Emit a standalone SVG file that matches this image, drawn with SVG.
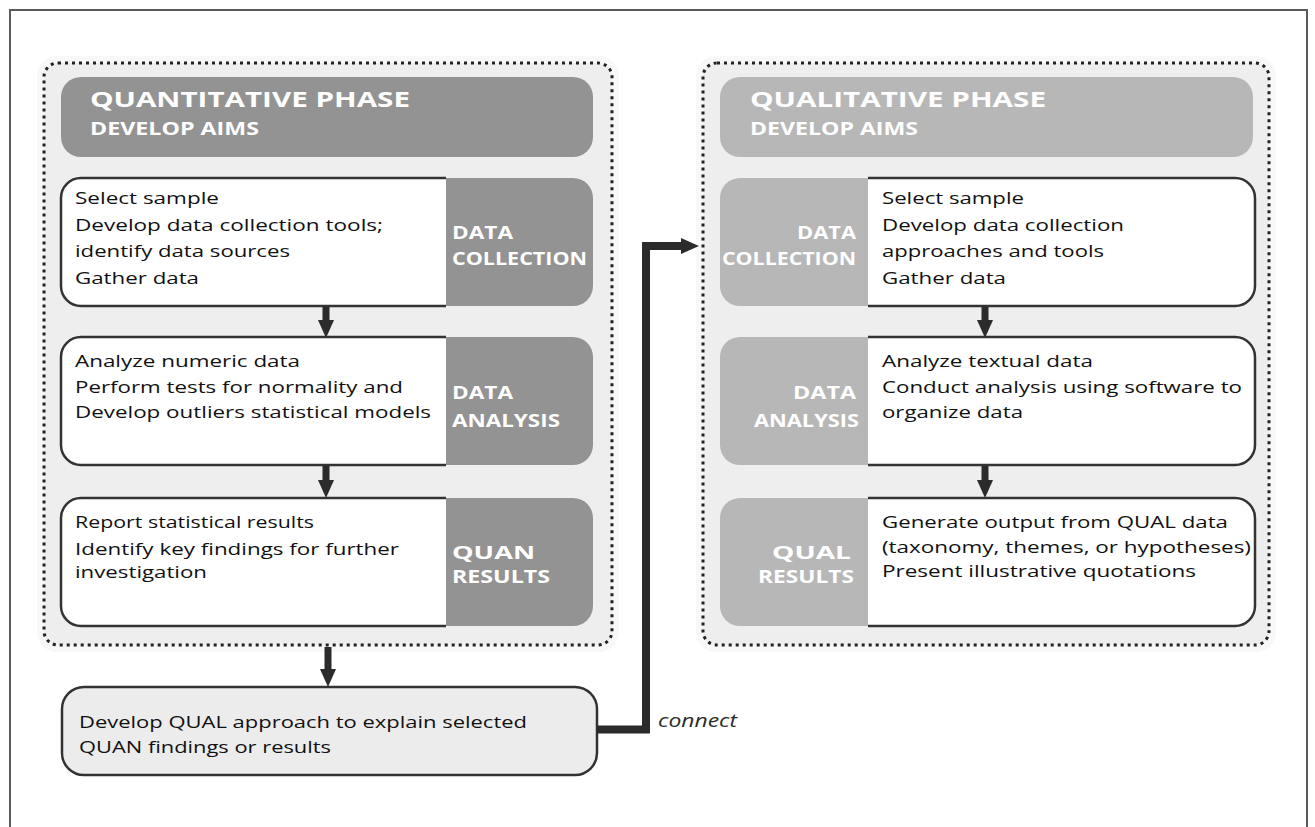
<svg xmlns="http://www.w3.org/2000/svg" width="1315" height="827" viewBox="0 0 1315 827">
<defs>
<style>
.frame{fill:#fff;stroke:#5a5a5a;stroke-width:2}
.halo{fill:#f8f8f8}
.cont{fill:#eeeeee;stroke:#222;stroke-width:3;stroke-dasharray:3 4}
.hdrL{fill:#939393}
.hdrR{fill:#b7b7b7}
.white{fill:#fff;stroke:#333;stroke-width:2.5}
.ht{font-family:"Open Sans","Liberation Sans",sans-serif;font-weight:bold;fill:#fff}
.lab{font-family:"Open Sans","Liberation Sans",sans-serif;font-weight:bold;fill:#fff;font-size:17px}
.tx{font-family:"Open Sans","Liberation Sans",sans-serif;fill:#111;font-size:17px;font-weight:500}
.bot{fill:#ececec;stroke:#333;stroke-width:2.5}
.conn{fill:none;stroke:#2b2b2b;stroke-width:8;stroke-linejoin:miter}
.stem{fill:none;stroke:#2b2b2b;stroke-width:7}
.it{font-family:"Open Sans","Liberation Sans",sans-serif;font-style:italic;fill:#2b2b2b;font-size:19px}
</style>
<marker id="ah" markerUnits="userSpaceOnUse" viewBox="0 0 18 16" markerWidth="18" markerHeight="16" refX="0" refY="8" orient="auto">
<path d="M0,0 L18,8 L0,16 Z" fill="#2b2b2b"/>
</marker>
</defs>

<rect class="frame" x="10" y="10" width="1297" height="830"/>

<g id="quan-phase">
<rect class="halo" x="37" y="56" width="582" height="596" rx="20"/>
<rect class="cont" x="44" y="63" width="568" height="582" rx="14"/>
</g>
<g id="qual-phase">
<rect class="halo" x="696" y="56" width="580" height="596" rx="20"/>
<rect class="cont" x="703" y="63" width="566" height="582" rx="14"/>
</g>

<g id="quan-header">
<rect class="hdrL" x="61" y="77" width="532" height="80" rx="20"/>
<text class="ht" x="90" y="107" font-size="21" textLength="320" lengthAdjust="spacingAndGlyphs">QUANTITATIVE PHASE</text>
<text class="ht" x="90" y="135" font-size="17" textLength="169" lengthAdjust="spacingAndGlyphs">DEVELOP AIMS</text>
</g>
<g id="qual-header">
<rect class="hdrR" x="720" y="77" width="533" height="80" rx="20"/>
<text class="ht" x="750" y="107" font-size="21" textLength="296" lengthAdjust="spacingAndGlyphs">QUALITATIVE PHASE</text>
<text class="ht" x="750" y="135" font-size="17" textLength="168" lengthAdjust="spacingAndGlyphs">DEVELOP AIMS</text>
</g>

<!-- Left rows -->
<g id="quan-collection">
<path class="hdrL" d="M446,178 H573 A20,20 0 0 1 593,198 V286 A20,20 0 0 1 573,306 H446 Z"/>
<path class="white" d="M446,178 H81 A20,20 0 0 0 61,198 V286 A20,20 0 0 0 81,306 H446"/>
<text class="tx" x="75" y="204" textLength="144" lengthAdjust="spacingAndGlyphs">Select sample</text>
<text class="tx" x="75" y="231" textLength="308" lengthAdjust="spacingAndGlyphs">Develop data collection tools;</text>
<text class="tx" x="75" y="257" textLength="215" lengthAdjust="spacingAndGlyphs">identify data sources</text>
<text class="tx" x="75" y="284" textLength="124" lengthAdjust="spacingAndGlyphs">Gather data</text>
<text class="lab" x="452" y="239" textLength="61" lengthAdjust="spacingAndGlyphs">DATA</text>
<text class="lab" x="452" y="265" textLength="135" lengthAdjust="spacingAndGlyphs">COLLECTION</text>
</g>
<g id="quan-analysis">
<path class="hdrL" d="M446,337 H573 A20,20 0 0 1 593,357 V445 A20,20 0 0 1 573,465 H446 Z"/>
<path class="white" d="M446,337 H81 A20,20 0 0 0 61,357 V445 A20,20 0 0 0 81,465 H446"/>
<text class="tx" x="75" y="367" textLength="225" lengthAdjust="spacingAndGlyphs">Analyze numeric data</text>
<text class="tx" x="75" y="393" textLength="328" lengthAdjust="spacingAndGlyphs">Perform tests for normality and</text>
<text class="tx" x="75" y="418" textLength="356" lengthAdjust="spacingAndGlyphs">Develop outliers statistical models</text>
<text class="lab" x="452" y="399" textLength="61" lengthAdjust="spacingAndGlyphs">DATA</text>
<text class="lab" x="452" y="427" textLength="108" lengthAdjust="spacingAndGlyphs">ANALYSIS</text>
</g>
<g id="quan-results">
<path class="hdrL" d="M446,498 H573 A20,20 0 0 1 593,518 V606 A20,20 0 0 1 573,626 H446 Z"/>
<path class="white" d="M446,498 H81 A20,20 0 0 0 61,518 V606 A20,20 0 0 0 81,626 H446"/>
<text class="tx" x="75" y="528" textLength="239" lengthAdjust="spacingAndGlyphs">Report statistical results</text>
<text class="tx" x="75" y="555" textLength="324" lengthAdjust="spacingAndGlyphs">Identify key findings for further</text>
<text class="tx" x="75" y="578" textLength="132" lengthAdjust="spacingAndGlyphs">investigation</text>
<text class="lab" x="452" y="559" font-size="20" textLength="83" lengthAdjust="spacingAndGlyphs">QUAN</text>
<text class="lab" x="452" y="583" textLength="98" lengthAdjust="spacingAndGlyphs">RESULTS</text>
</g>

<!-- Right rows -->
<g id="qual-collection">
<path class="hdrR" d="M868,178 H740 A20,20 0 0 0 720,198 V286 A20,20 0 0 0 740,306 H868 Z"/>
<path class="white" d="M868,178 H1235 A20,20 0 0 1 1255,198 V286 A20,20 0 0 1 1235,306 H868"/>
<text class="tx" x="882" y="204" textLength="142" lengthAdjust="spacingAndGlyphs">Select sample</text>
<text class="tx" x="882" y="231" textLength="242" lengthAdjust="spacingAndGlyphs">Develop data collection</text>
<text class="tx" x="882" y="257" textLength="222" lengthAdjust="spacingAndGlyphs">approaches and tools</text>
<text class="tx" x="882" y="284" textLength="124" lengthAdjust="spacingAndGlyphs">Gather data</text>
<text class="lab" x="797" y="239" textLength="59" lengthAdjust="spacingAndGlyphs">DATA</text>
<text class="lab" x="722" y="265" textLength="134" lengthAdjust="spacingAndGlyphs">COLLECTION</text>
</g>
<g id="qual-analysis">
<path class="hdrR" d="M868,337 H740 A20,20 0 0 0 720,357 V445 A20,20 0 0 0 740,465 H868 Z"/>
<path class="white" d="M868,337 H1235 A20,20 0 0 1 1255,357 V445 A20,20 0 0 1 1235,465 H868"/>
<text class="tx" x="882" y="367" textLength="211" lengthAdjust="spacingAndGlyphs">Analyze textual data</text>
<text class="tx" x="882" y="393" textLength="360" lengthAdjust="spacingAndGlyphs">Conduct analysis using software to</text>
<text class="tx" x="882" y="418" textLength="141" lengthAdjust="spacingAndGlyphs">organize data</text>
<text class="lab" x="793" y="399" textLength="63" lengthAdjust="spacingAndGlyphs">DATA</text>
<text class="lab" x="754" y="427" textLength="105" lengthAdjust="spacingAndGlyphs">ANALYSIS</text>
</g>
<g id="qual-results">
<path class="hdrR" d="M868,498 H740 A20,20 0 0 0 720,518 V606 A20,20 0 0 0 740,626 H868 Z"/>
<path class="white" d="M868,498 H1235 A20,20 0 0 1 1255,518 V606 A20,20 0 0 1 1235,626 H868"/>
<text class="tx" x="882" y="528" textLength="346" lengthAdjust="spacingAndGlyphs">Generate output from QUAL data</text>
<text class="tx" x="882" y="553" textLength="369" lengthAdjust="spacingAndGlyphs">(taxonomy, themes, or hypotheses)</text>
<text class="tx" x="882" y="577" textLength="314" lengthAdjust="spacingAndGlyphs">Present illustrative quotations</text>
<text class="lab" x="772" y="559" font-size="20" textLength="79" lengthAdjust="spacingAndGlyphs">QUAL</text>
<text class="lab" x="758" y="583" textLength="96" lengthAdjust="spacingAndGlyphs">RESULTS</text>
</g>

<g id="develop-qual">
<rect class="bot" x="62" y="687" width="535" height="88" rx="22"/>
<text class="tx" x="79" y="728" textLength="448" lengthAdjust="spacingAndGlyphs">Develop QUAL approach to explain selected</text>
<text class="tx" x="79" y="753" textLength="252" lengthAdjust="spacingAndGlyphs">QUAN findings or results</text>
</g>

<g id="connectors">
<line class="stem" x1="326" y1="307" x2="326" y2="320" marker-end="url(#ah)"/>
<line class="stem" x1="326" y1="466" x2="326" y2="480" marker-end="url(#ah)"/>
<line class="stem" x1="985" y1="307" x2="985" y2="320" marker-end="url(#ah)"/>
<line class="stem" x1="985" y1="466" x2="985" y2="480" marker-end="url(#ah)"/>
<line class="stem" x1="328" y1="647" x2="328" y2="669" marker-end="url(#ah)"/>
<path class="conn" d="M597,729.5 H646 V246 H681" marker-end="url(#ah)"/>
<text class="it" x="658" y="727" textLength="79" lengthAdjust="spacingAndGlyphs">connect</text>
</g>
</svg>
